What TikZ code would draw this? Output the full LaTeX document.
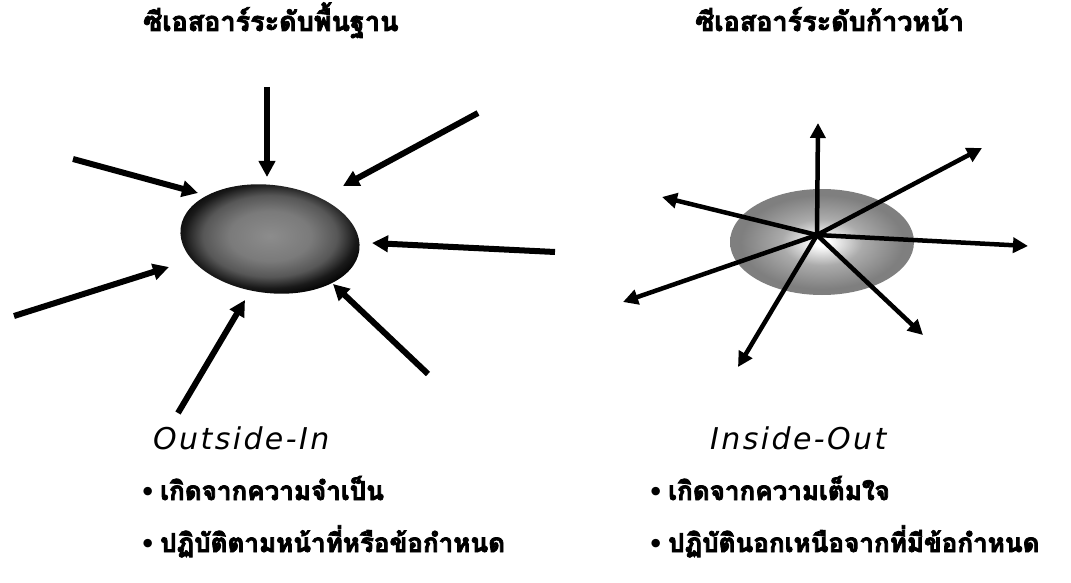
\documentclass[tikz,border=0pt]{standalone}
\usepackage{fontspec}
\newfontfamily\thaifont[Script=Thai, BoldFeatures={FakeBold=3}]{Loma}
\newfontfamily\dvsans{DejaVu Sans}
\usetikzlibrary{arrows.meta,shapes.geometric}
\pgfdeclareradialshading{darkdisc}{\pgfpoint{0bp}{0bp}}{color(0bp)=(black!45); color(11bp)=(black!52); color(18bp)=(black!66); color(23bp)=(black!90); color(27bp)=(black); color(50bp)=(black)}
\pgfdeclareradialshading{lightdisc}{\pgfpoint{0bp}{0bp}}{color(0bp)=(white); color(2bp)=(white); color(11bp)=(black!33); color(22bp)=(black!50); color(50bp)=(black!52)}
\tikzset{
  arr/.style={line width=6pt, -{Triangle[length=16pt,width=16pt]}, black},
  outarr/.style={line width=4.5pt, -{Triangle[length=15pt,width=15pt]}, black},
  title/.style={font=\thaifont\bfseries\fontsize{27}{30}\selectfont, anchor=base west, inner sep=0pt},
  bul/.style={font=\thaifont\bfseries\fontsize{26}{30}\selectfont, anchor=base west, inner sep=0pt},
  eng/.style={font=\dvsans\itshape\addfontfeatures{LetterSpace=8}\fontsize{30}{34}\selectfont, anchor=base west, inner sep=0pt},
  dot/.style={font=\dvsans\bfseries\fontsize{24}{26}\selectfont, anchor=base west, inner sep=0pt}
}
\begin{document}
\begin{tikzpicture}[x=1pt,y=-1pt]
\useasboundingbox (0,0) rectangle (1071,583);
% titles
\node[title] (t1) at (143,31) {ซีเอสอาร์ระดับพื้นฐาน};
\node[title] (t2) at (695,31) {ซีเอสอาร์ระดับก้าวหน้า};
% left ellipse
\node[ellipse, minimum width=180pt, minimum height=108pt, inner sep=0pt, shading=darkdisc, rotate=-7] (e1) at (270,239) {};
\coordinate (a1s) at (267,87);   \coordinate (a1e) at (267,177);
\coordinate (a2s) at (478,113);  \coordinate (a2e) at (343,186);
\coordinate (a3s) at (73,159);   \coordinate (a3e) at (198,193);
\coordinate (a4s) at (555,252);  \coordinate (a4e) at (372,243);
\coordinate (a5s) at (14,316);   \coordinate (a5e) at (169,267);
\coordinate (a6s) at (178,413);  \coordinate (a6e) at (245,300);
\coordinate (a7s) at (428,374);  \coordinate (a7e) at (333,284);
\foreach \i in {1,...,7} \draw[arr] (a\i s) -- (a\i e);
% right ellipse
\node[ellipse, minimum width=184pt, minimum height=106pt, inner sep=0pt, shading=lightdisc, shading angle=0] (e2) at (822,242) {};
\coordinate (c) at (817,235);
\coordinate (b1) at (818,123);
\coordinate (b2) at (982,148);
\coordinate (b3) at (1028,246);
\coordinate (b4) at (923,335);
\coordinate (b5) at (738,367);
\coordinate (b6) at (623,302);
\coordinate (b7) at (662,197);
\foreach \i in {1,...,7} \draw[outarr] (c) -- (b\i);
% english labels
\node[eng] (o1) at (153,449) {Outside-In};
\node[eng] (o2) at (710,449) {Inside-Out};
% bullets
\node[dot] (d1) at (140,500) {•};
\node[bul] (l1) at (160,500) {เกิดจากความจำเป็น};
\node[dot] (d2) at (140,552) {•};
\node[bul] (l2) at (160,552) {ปฏิบัติตามหน้าที่หรือข้อกำหนด};
\node[dot] (d3) at (648,500) {•};
\node[bul] (r1) at (668,500) {เกิดจากความเต็มใจ};
\node[dot] (d4) at (648,552) {•};
\node[bul] (r2) at (668,552) {ปฏิบัตินอกเหนือจากที่มีข้อกำหนด};
\end{tikzpicture}
\end{document}
